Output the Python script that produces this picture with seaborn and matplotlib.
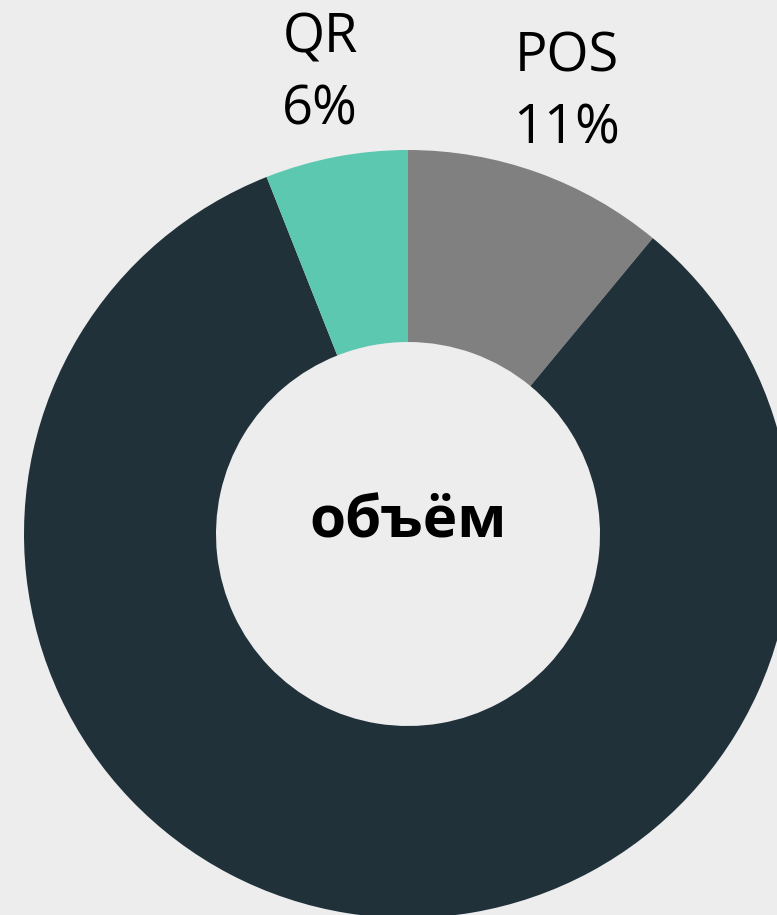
import matplotlib
matplotlib.use("Agg")
import matplotlib.pyplot as plt
import seaborn as sns

# data: slices clockwise from 12 o'clock
categories = ["POS", "", "QR"]
shares = [11, 83, 6]
slice_colors = ["#808080", "#21313a", "#5cc8b0"]
center_label = "объём"

BG = "#ededed"

sns.set_theme(style="white")
plt.rcParams["font.family"] = ["Open Sans", "DejaVu Sans"]

W, H = 777, 915
fig = plt.figure(figsize=(W / 100, H / 100), dpi=100, facecolor=BG)
ax = fig.add_axes([0, 0, 1, 1])
ax.set_facecolor(BG)

labels = [f"{c}\n{v}%" if c else "" for c, v in zip(categories, shares)]
wedges, texts = ax.pie(
    shares, labels=labels, colors=slice_colors, startangle=90, counterclock=False,
    radius=1.0, labeldistance=1.22,
    wedgeprops=dict(width=0.5, linewidth=0),
    textprops=dict(fontsize=39, color="black", ha="center", va="center"),
)
for t in texts:
    t.set_linespacing(1.4)

ax.text(0, 0.03, center_label, ha="center", va="center", fontsize=42,
        fontweight="bold", color="black")

# centre at (408, 534) px from top-left, radius 384 px
r = 384
cx, cy = 408, H - 534
ax.set_xlim(-cx / r, (W - cx) / r)
ax.set_ylim(-cy / r, (H - cy) / r)
ax.set_aspect("auto")
ax.axis("off")

fig.savefig("out.png", dpi=100, facecolor=BG)
